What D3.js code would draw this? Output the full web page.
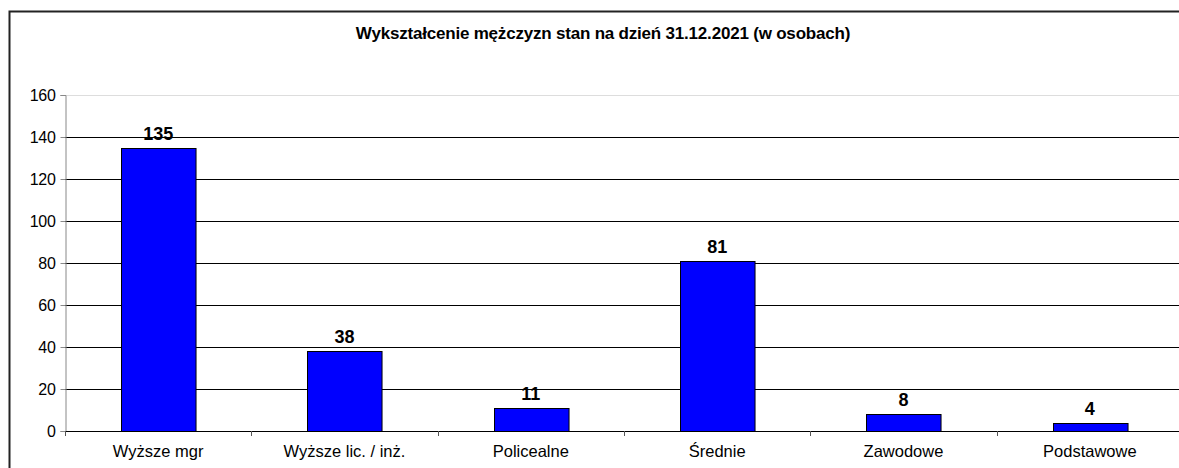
<!DOCTYPE html>
<html>
<head>
<meta charset="utf-8">
<script src="https://cdn.jsdelivr.net/npm/d3@7"></script>
<style>
  body { margin: 0; background: #fff; }
  svg { display: block; font-family: "Liberation Sans", Arial, sans-serif; }
</style>
</head>
<body>
<svg id="svg" width="1179" height="468"></svg>
<script>
var categories = ['Wyższe mgr', 'Wyższe lic. / inż.', 'Policealne', 'Średnie', 'Zawodowe', 'Podstawowe'];
var values = [135, 38, 11, 81, 8, 4];
var yTicks = [0, 20, 40, 60, 80, 100, 120, 140, 160];
var title = 'Wykształcenie mężczyzn stan na dzień 31.12.2021 (w osobach)';

var svg = d3.select('#svg');
var margin = { top: 95, right: -4, bottom: 37, left: 65 };
var width = 1179, height = 468;
var innerW = width - margin.left - margin.right;
var innerH = height - margin.top - margin.bottom;

// outer chart frame (runs off the right and bottom edge)
svg.append('rect')
  .attr('x', 9.5).attr('y', 11.5)
  .attr('width', 1200).attr('height', 500)
  .attr('fill', 'none')
  .attr('stroke', '#222')
  .attr('stroke-width', 2);

svg.append('text')
  .attr('x', 603).attr('y', 39)
  .attr('text-anchor', 'middle')
  .style('font-size', '17px')
  .style('font-weight', 'bold')
  .style('letter-spacing', '-0.2px')
  .text(title);

var x = d3.scaleBand().domain(categories).range([0, innerW]).paddingInner(0.6).paddingOuter(0.3);
var y = d3.scaleLinear().domain([0, 160]).range([innerH, 0]);

var g = svg.append('g').attr('transform', 'translate(' + margin.left + ',' + margin.top + ')');

// gridlines
g.selectAll('line.grid')
  .data(yTicks.filter(function(d) { return d > 0; }))
  .enter().append('line')
  .attr('class', 'grid')
  .attr('x1', 0).attr('x2', innerW)
  .attr('y1', function(d) { return Math.round(y(d)) + 0.5; })
  .attr('y2', function(d) { return Math.round(y(d)) + 0.5; })
  .attr('stroke', function(d) { return d == 160 ? '#ddd' : '#000'; })
  .attr('stroke-width', 1);

// y axis
var yAxis = g.append('g')
  .attr('transform', 'translate(0.5,0)')
  .call(d3.axisLeft(y).tickValues(yTicks).tickSize(5).tickPadding(5));
yAxis.select('.domain').attr('stroke', '#888');
yAxis.selectAll('.tick line').attr('stroke', '#888');
yAxis.selectAll('text')
  .style('font-size', '16px')
  .style('letter-spacing', '-0.3px')
  .attr('fill', '#000')
  .attr('font-family', null);

// x axis line + category boundary ticks
var step = x.step();
g.append('line')
  .attr('x1', 0).attr('x2', innerW)
  .attr('y1', innerH + 0.5).attr('y2', innerH + 0.5)
  .attr('stroke', '#000');
g.selectAll('line.xtick')
  .data(d3.range(categories.length + 1))
  .enter().append('line')
  .attr('class', 'xtick')
  .attr('x1', function(i) { return Math.round(i * step) + 0.5; })
  .attr('x2', function(i) { return Math.round(i * step) + 0.5; })
  .attr('y1', innerH).attr('y2', innerH + 5)
  .attr('stroke', '#555');

// bars
g.selectAll('rect.bar')
  .data(values)
  .enter().append('rect')
  .attr('class', 'bar')
  .attr('x', function(d, i) { return Math.round(x(categories[i])) + 0.5; })
  .attr('y', function(d) { return Math.round(y(d)) + 0.5; })
  .attr('width', x.bandwidth())
  .attr('height', function(d) { return innerH - Math.round(y(d)); })
  .attr('fill', '#0000ff')
  .attr('stroke', '#000')
  .attr('stroke-width', 1);

// value labels
g.selectAll('text.val')
  .data(values)
  .enter().append('text')
  .attr('class', 'val')
  .attr('x', function(d, i) { return x(categories[i]) + x.bandwidth() / 2; })
  .attr('y', function(d) { return y(d) - 8; })
  .attr('text-anchor', 'middle')
  .style('font-size', '18px')
  .style('font-weight', 'bold')
  .text(function(d) { return d; });

// category labels
g.selectAll('text.cat')
  .data(categories)
  .enter().append('text')
  .attr('class', 'cat')
  .attr('x', function(d) { return x(d) + x.bandwidth() / 2; })
  .attr('y', innerH + 26)
  .attr('text-anchor', 'middle')
  .style('font-size', '16.5px')
  .style('letter-spacing', '0px')
  .text(function(d) { return d; });
</script>
</body>
</html>
